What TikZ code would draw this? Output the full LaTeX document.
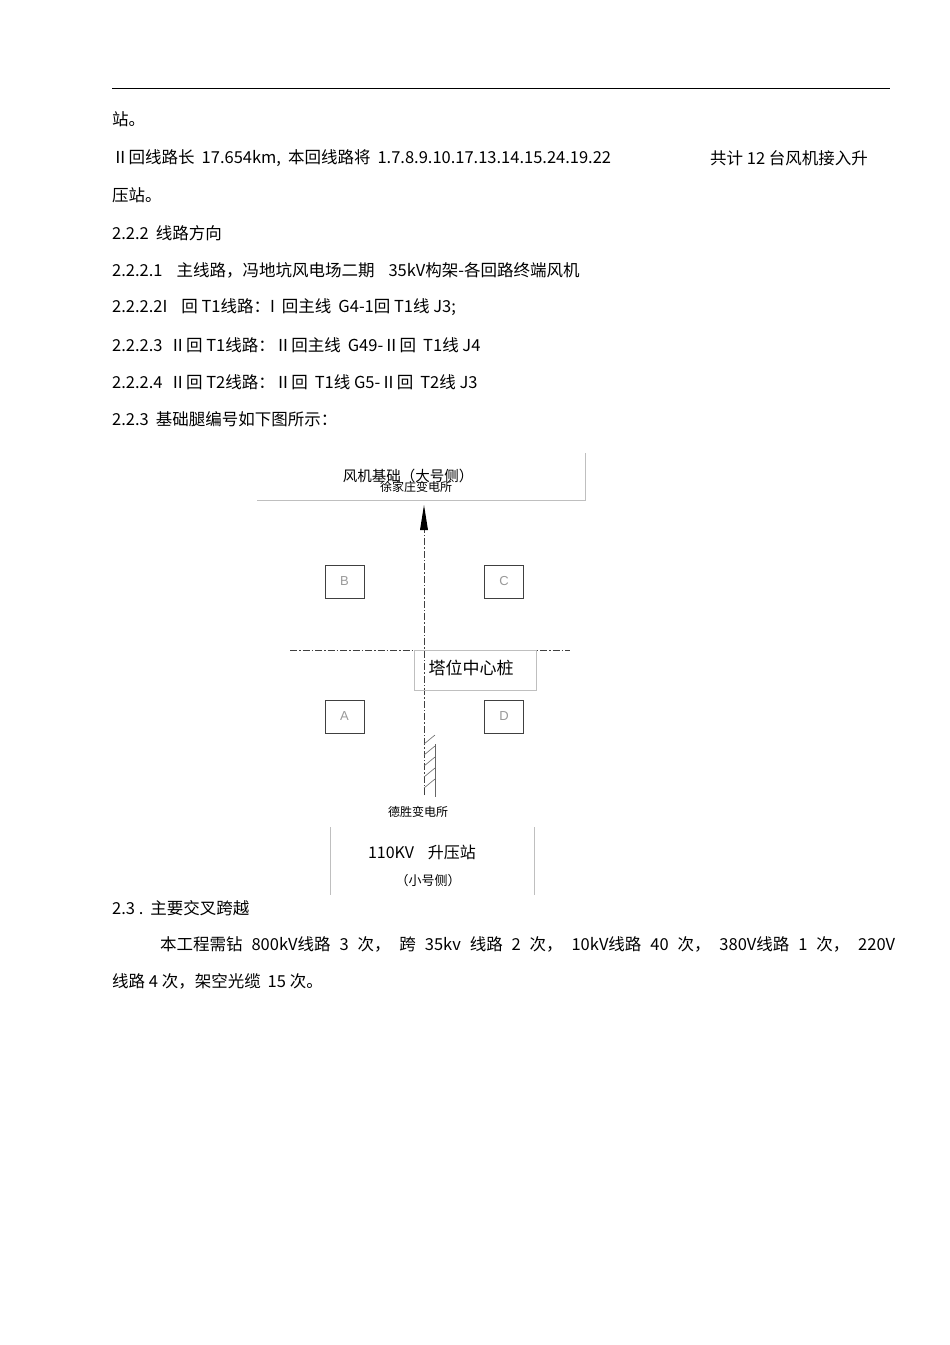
\documentclass[tikz,border=0pt]{standalone}
\usepackage{fontspec}
\setmainfont{Liberation Sans}
\newfontfamily\cjk{Noto Sans CJK SC}
\newcommand{\gp}{\hspace{7pt}}
\begin{document}
\begin{tikzpicture}[x=1pt,y=-1pt,
  txt/.style={anchor=west,inner sep=0pt,font=\cjk\fontsize{16.5}{19}\selectfont},
  lbox/.style={draw=black!25,line width=0.6pt},
  leg/.style={draw=black!75,line width=0.9pt,minimum width=39pt,minimum height=33pt,inner sep=0pt,text=black!40,font=\fontsize{13}{14}\selectfont},
  axis/.style={draw=black!75,line width=0.9pt,dash pattern=on 7pt off 2pt on 1.5pt off 2pt}]
\useasboundingbox (0,0) rectangle (950,1345);
\fill[white] (0,0) rectangle (950,1345);
\draw[line width=0.6pt] (112,88) -- (890,88);
\node[txt] (l1) at (112,119) {站。};
\node[txt] (l2) at (112,158) {Ⅱ回线路长\gp 17.654km,\gp 本回线路将\gp 1.7.8.9.10.17.13.14.15.24.19.22};
\node[txt] (l2b) at (710,158) {共计 12 台风机接入升};
\node[txt] (l3) at (112,195) {压站。};
\node[txt] (l4) at (112,233) {2.2.2\gp 线路方向};
\node[txt] (l5) at (112,270) {2.2.2.1\gp\gp 主线路，冯地坑风电场二期\gp\gp 35kV构架-各回路终端风机};
\node[txt] (l6) at (112,307) {2.2.2.2I\gp\gp 回 T1线路：I\gp 回主线\gp G4-1回 T1线 J3;};
\node[txt] (l7) at (112,345) {2.2.2.3\gp Ⅱ回 T1线路：Ⅱ回主线\gp G49-Ⅱ回\gp T1线 J4};
\node[txt] (l8) at (112,382) {2.2.2.4\gp Ⅱ回 T2线路：Ⅱ回\gp T1线 G5-Ⅱ回\gp T2线 J3};
\node[txt] (l9) at (112,419) {2.2.3\gp 基础腿编号如下图所示：};
\node[txt] (l10) at (112,908) {2.3 .\gp 主要交叉跨越};
\node[txt] (l11) at (160,944) {\makebox[735pt][s]{本工程需钻 800kV线路 3 次， 跨 35kv 线路 2 次， 10kV线路 40 次， 380V线路 1 次， 220V}};
\node[txt] (l12) at (112,981) {线路 4 次，架空光缆\gp 15 次。};
% diagram
\draw[lbox] (585,453) -- (585,500) -- (257,500);
\node[font=\cjk\fontsize{14.5}{16}\selectfont,inner sep=0pt] (top) at (408,476) {风机基础（大号侧）};
\node[font=\cjk\fontsize{12}{13}\selectfont,inner sep=0pt] (xu) at (416,487) {徐家庄变电所};
\coordinate (bot) at (424,795);
\coordinate (tip) at (424,505);
\draw[axis] (bot) -- (424,528);
\fill (tip) -- (428,530) -- (420,530) -- cycle;
\coordinate (hl) at (290,650);
\coordinate (hr) at (570,650);
\draw[axis] (hl) -- (hr);
\draw[lbox] (414,650) rectangle (536,690);
\node[font=\cjk\fontsize{17}{19}\selectfont,inner sep=0pt] (ctr) at (471,668) {塔位中心桩};
\node[leg] (B) at (344.5,581.5) {B};
\node[leg] (C) at (504,581.5) {C};
\node[leg] (A) at (344.5,716.5) {A};
\node[leg] (D) at (504,716.5) {D};
\draw[black!60,line width=0.7pt] (435,744) -- (435,797);
\foreach \y in {744,755,766,777,788} \draw[black!60,line width=0.6pt] (424,\y) -- (435,\y-9);
\node[font=\cjk\fontsize{12}{13}\selectfont,inner sep=0pt] (ds) at (418,812) {德胜变电所};
\draw[lbox] (330,827) -- (330,895);
\draw[lbox] (534,827) -- (534,895);
\node[font=\cjk\fontsize{16}{18}\selectfont,inner sep=0pt] (sy) at (422,852) {110KV\gp\gp 升压站};
\node[font=\cjk\fontsize{13}{14}\selectfont,inner sep=0pt] (xh) at (428,881) {（小号侧）};
\end{tikzpicture}
\end{document}
